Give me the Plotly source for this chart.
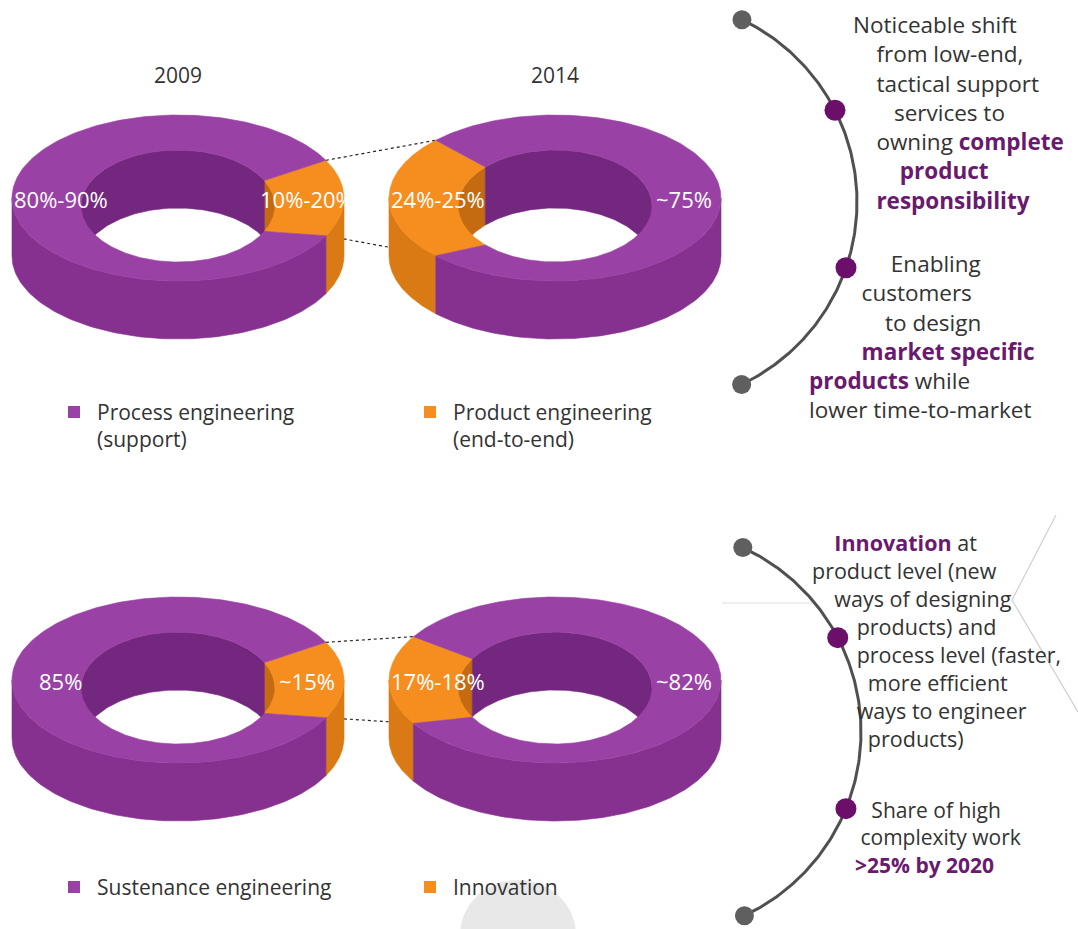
import numpy as np
import plotly.graph_objects as go

# ---- data -------------------------------------------------------------
years = ["2009", "2014"]

# upper pair: process vs product engineering (share of product engineering, %)
product_share = [15.0, 24.5]
process_labels = ["80%-90%", "~75%"]
product_labels = ["10%-20%", "24%-25%"]
legend_top = [["Process engineering", "(support)"], ["Product engineering", "(end-to-end)"]]

# lower pair: sustenance engineering vs innovation (share of innovation, %)
innovation_share = [15.0, 17.5]
sustenance_labels = ["85%", "~82%"]
innovation_labels = ["~15%", "17%-18%"]
legend_bottom = [["Sustenance engineering"], ["Innovation"]]

notes_top = [
    ["Noticeable shift", "from low-end,", "tactical support", "services to",
     "owning <b>complete</b>", "<b>product</b>", "<b>responsibility</b>"],
    ["Enabling", "customers", "to design", "<b>market specific</b>",
     "<b>products</b> while", "lower time-to-market"],
]
notes_bottom = [
    ["<b>Innovation</b> at", "product level (new", "ways of designing",
     "products) and", "process level (faster,", "more efficient",
     "ways to engineer", "products)"],
    ["Share of high", "complexity work", "<b>>25% by 2020</b>"],
]

# ---- styling / layout ---------------------------------------------------
W, H_PX = 1078, 929
FONT = "Open Sans"
TXT = "#333333"
ACCENT = "#6a1a6e"
PURPLE = dict(top="#9a41a5", side="#86308f", inner="#74277e")
ORANGE = dict(top="#f68e1f", side="#d97a14", inner="#c46b12")

A_OUT, B_OUT = 166, 83        # outer rim ellipse
A_IN, B_IN, DY_IN = 97, 56, 8  # inner rim ellipse
DEPTH = 58                    # visible wall height

ring_x = [178, 555]
row_y = [198, 680]
orange_centre = [0.0, 180.0]  # angle (deg) where the smaller slice is centred

fig = go.Figure()


def arc(cx, cy, a, b, t0, t1, n=120):
    t = np.radians(np.linspace(t0, t1, n))
    return cx + a * np.cos(t), cy + b * np.sin(t)


def clip(t0, t1, lo, hi):
    """Pieces of [t0,t1] falling inside [lo,hi] modulo 360."""
    out = []
    for k in (-360, 0, 360, 720):
        s, e = max(t0, lo + k), min(t1, hi + k)
        if e > s:
            out.append((s, e))
    return out


def poly(xs, ys, color):
    fig.add_trace(go.Scatter(
        x=np.r_[xs, xs[0]], y=np.r_[ys, ys[0]], mode="lines",
        fill="toself", fillcolor=color, line=dict(color=color, width=0.6),
        hoverinfo="skip", showlegend=False))


def donut(cx, cy, share, centre):
    span = share / 100 * 360
    segs = [
        (centre - span / 2, centre + span / 2, ORANGE),
        (centre + span / 2, centre + 360 - span / 2, PURPLE),
    ]
    cyi = cy + DY_IN
    # inner back wall
    for t0, t1, col in segs:
        for s, e in clip(t0, t1, 180, 360):
            x1, y1 = arc(cx, cyi, A_IN, B_IN, s, e)
            x2, y2 = arc(cx, cyi + DEPTH, A_IN, B_IN, e, s)
            poly(np.r_[x1, x2], np.r_[y1, y2], col["inner"])
    # outer front wall
    for t0, t1, col in segs:
        for s, e in clip(t0, t1, 0, 180):
            x1, y1 = arc(cx, cy, A_OUT, B_OUT, s, e)
            x2, y2 = arc(cx, cy + DEPTH, A_OUT, B_OUT, e, s)
            poly(np.r_[x1, x2], np.r_[y1, y2], col["side"])
    # top face
    for t0, t1, col in segs:
        x1, y1 = arc(cx, cy, A_OUT, B_OUT, t0, t1, 240)
        x2, y2 = arc(cx, cyi, A_IN, B_IN, t1, t0, 240)
        poly(np.r_[x1, x2], np.r_[y1, y2], col["top"])


def corner(cx, cy, t):
    r = np.radians(t)
    return cx + A_OUT * np.cos(r), cy + B_OUT * np.sin(r)


def label_at(cx, cy, t, text):
    r = np.radians(t)
    f = A_IN + 0.38 * (A_OUT - A_IN)
    fig.add_annotation(x=cx + 6 + f * np.cos(r), y=cy + 1,
                       text=text, showarrow=False,
                       font=dict(family=FONT, size=22, color="white"))


def text_block(lines, x_starts, y_first, size, color=TXT):
    """Multi-line left-aligned block; each line indented with no-break spaces."""
    x0 = min(x_starts)
    nbsp = 0.26 * size
    rows = ["\u00a0" * int(round((x - x0) / nbsp)) + s for s, x in zip(lines, x_starts)]
    y_mid = y_first + (len(lines) - 1) * 1.3 * size / 2
    fig.add_annotation(x=x0, y=y_mid, text="<br>".join(rows), showarrow=False,
                       xanchor="left", yanchor="middle", align="left",
                       font=dict(family=FONT, size=size, color=color))


# faint background decorations
fig.add_trace(go.Scatter(x=[1056, 1012, 1078], y=[515, 600, 712], mode="lines",
                         line=dict(color="#cfcfcf", width=1.2),
                         hoverinfo="skip", showlegend=False))
fig.add_trace(go.Scatter(x=[722, 812], y=[603, 603], mode="lines",
                         line=dict(color="#e8e8e8", width=1.5),
                         hoverinfo="skip", showlegend=False))
bt = np.radians(np.linspace(180, 360, 60))
fig.add_trace(go.Scatter(x=np.r_[518 + 58 * np.cos(bt), 518 - 58],
                         y=np.r_[935 + 55 * np.sin(bt), 935],
                         mode="lines", fill="toself", fillcolor="#e8e8e8",
                         line=dict(color="#e8e8e8", width=0),
                         hoverinfo="skip", showlegend=False))

for row, (shares, lab_big, lab_small) in enumerate([
        (product_share, process_labels, product_labels),
        (innovation_share, sustenance_labels, innovation_labels)]):
    cy = row_y[row]
    # dashed links between the two smaller slices
    c0, c1 = orange_centre
    s0 = shares[0] / 100 * 360
    s1 = shares[1] / 100 * 360
    ux0, uy0 = corner(ring_x[0], cy, c0 - s0 / 2)
    lx0, ly0 = corner(ring_x[0], cy, c0 + s0 / 2)
    ux1, uy1 = corner(ring_x[1], cy, c1 + s1 / 2)
    lx1, ly1 = corner(ring_x[1], cy, c1 - s1 / 2)
    for xa, ya, xb, yb in [(ux0, uy0, ux1, uy1), (lx0, ly0, lx1, ly1)]:
        fig.add_trace(go.Scatter(x=[xa, xb], y=[ya, yb], mode="lines",
                                 line=dict(color="#222222", width=1.2, dash="3px,3px"),
                                 hoverinfo="skip", showlegend=False))
    for i in range(2):
        donut(ring_x[i], cy, shares[i], orange_centre[i])
        label_at(ring_x[i], cy, orange_centre[i] + 180, lab_big[i])
        label_at(ring_x[i], cy, orange_centre[i], lab_small[i])

# year headings
for i, yr in enumerate(years):
    fig.add_annotation(x=ring_x[i], y=75, text=yr, showarrow=False,
                       font=dict(family=FONT, size=21, color=TXT))

# legends
legend_rows = [(legend_top, 412), (legend_bottom, 887)]
legend_x = [74, 430]
legend_cols = [PURPLE["top"], ORANGE["top"]]
for labels, ysq in legend_rows:
    for i, lines in enumerate(labels):
        fig.add_trace(go.Scatter(x=[legend_x[i]], y=[ysq], mode="markers",
                                 marker=dict(symbol="square", size=12, color=legend_cols[i]),
                                 hoverinfo="skip", showlegend=False))
        text_block(lines, [legend_x[i] + 21] * len(lines), ysq, 21)

# timeline arcs with dots
arcs = [
    dict(c=(655, 202), r=202, ends=(-64.5, 64.6), dots=(-27, 19)),
    dict(c=(658, 732), r=203, ends=(-65.3, 64.8), dots=(-27.7, 22.2)),
]
for a in arcs:
    t = np.radians(np.linspace(a["ends"][0], a["ends"][1], 200))
    fig.add_trace(go.Scatter(x=a["c"][0] + a["r"] * np.cos(t), y=a["c"][1] + a["r"] * np.sin(t),
                             mode="lines", line=dict(color="#505050", width=3),
                             hoverinfo="skip", showlegend=False))
    te = np.radians(np.array(a["ends"]))
    fig.add_trace(go.Scatter(x=a["c"][0] + a["r"] * np.cos(te), y=a["c"][1] + a["r"] * np.sin(te),
                             mode="markers", marker=dict(size=19, color="#5f5f5f"),
                             hoverinfo="skip", showlegend=False))
    td = np.radians(np.array(a["dots"]))
    fig.add_trace(go.Scatter(x=a["c"][0] + a["r"] * np.cos(td), y=a["c"][1] + a["r"] * np.sin(td),
                             mode="markers", marker=dict(size=21, color="#6b0f6b"),
                             hoverinfo="skip", showlegend=False))


def styled(s):
    return s.replace("<b>", "<span style='color:%s'><b>" % ACCENT).replace("</b>", "</b></span>")


# side notes: (lines, line start x, first line y, font size)
blocks = [
    (notes_top[0], [851, 872, 873, 893, 873, 900, 872], 25, 22.5),
    (notes_top[1], [890, 858, 883, 857, 808, 807], 263, 22.5),
    (notes_bottom[0], [830, 810, 830, 853, 855, 868, 857, 867], 543, 21.5),
    (notes_bottom[1], [872, 858, 853], 810, 21),
]
for lines, xs, y0, size in blocks:
    text_block([styled(s) for s in lines], xs, y0, size)

fig.update_layout(
    width=W, height=H_PX, margin=dict(l=0, r=0, t=0, b=0),
    paper_bgcolor="white", plot_bgcolor="white",
    xaxis=dict(range=[0, W], visible=False, fixedrange=True),
    yaxis=dict(range=[H_PX, 0], visible=False, fixedrange=True),
    showlegend=False,
)
fig.write_html("out.html")
